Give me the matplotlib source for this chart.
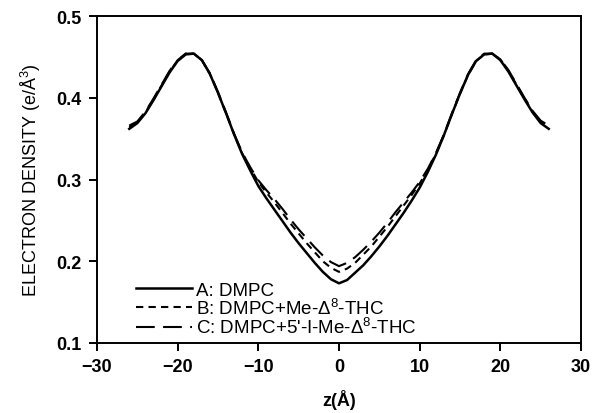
import matplotlib
matplotlib.use("Agg")
import matplotlib.pyplot as plt

z = [-26, -25, -24, -23, -22, -21, -20, -19, -18, -17, -16, -15, -14, -13, -12, -11, -10,
     -9, -8, -7, -6, -5, -4, -3, -2, -1, 0,
     1, 2, 3, 4, 5, 6, 7, 8, 9, 10, 11, 12, 13, 14, 15, 16, 17, 18, 19, 20, 21, 22, 23, 24, 25, 26]

dens_a = [0.362, 0.369, 0.381, 0.397, 0.414, 0.431, 0.445, 0.453, 0.454, 0.446, 0.429, 0.406, 0.381, 0.355,
          0.331, 0.311, 0.292, 0.277, 0.263, 0.249, 0.235, 0.222, 0.210, 0.198, 0.187, 0.178, 0.173,
          0.177, 0.186, 0.195, 0.206, 0.218, 0.231, 0.245, 0.259, 0.274, 0.290, 0.309, 0.330, 0.354,
          0.380, 0.405, 0.428, 0.445, 0.453, 0.454, 0.446, 0.432, 0.415, 0.398, 0.382, 0.369, 0.362]

dens_b = [0.364, 0.370, 0.382, 0.398, 0.415, 0.432, 0.446, 0.454, 0.454, 0.446, 0.429, 0.406, 0.381, 0.355,
          0.332, 0.314, 0.297, 0.284, 0.272, 0.259, 0.246, 0.234, 0.222, 0.211, 0.200, 0.192, 0.187,
          0.191, 0.198, 0.208, 0.218, 0.230, 0.242, 0.255, 0.268, 0.281, 0.295, 0.312, 0.331, 0.354,
          0.380, 0.405, 0.428, 0.445, 0.453, 0.454, 0.447, 0.433, 0.416, 0.399, 0.383, 0.371, 0.364]

dens_c = [0.366, 0.371, 0.383, 0.399, 0.416, 0.433, 0.446, 0.454, 0.454, 0.446, 0.430, 0.407, 0.382, 0.356,
          0.333, 0.315, 0.299, 0.287, 0.276, 0.264, 0.251, 0.239, 0.228, 0.217, 0.207, 0.199, 0.194,
          0.198, 0.205, 0.214, 0.224, 0.235, 0.247, 0.260, 0.272, 0.284, 0.297, 0.313, 0.332, 0.355,
          0.381, 0.406, 0.429, 0.446, 0.454, 0.454, 0.447, 0.434, 0.417, 0.400, 0.384, 0.372, 0.366]

labels = ["A: DMPC", "B: DMPC+Me-$\\Delta^8$-THC", "C: DMPC+5'-I-Me-$\\Delta^8$-THC"]
xticks = [-30, -20, -10, 0, 10, 20, 30]
yticks = [0.1, 0.2, 0.3, 0.4, 0.5]

plt.rcParams['font.family'] = ['Liberation Sans', 'DejaVu Sans']
plt.rcParams['mathtext.fontset'] = 'custom'
plt.rcParams['mathtext.rm'] = 'Liberation Sans'
plt.rcParams['mathtext.it'] = 'Liberation Sans:italic'
plt.rcParams['mathtext.bf'] = 'Liberation Sans:bold'

fig = plt.figure(figsize=(6.01, 4.14), dpi=100)
ax = fig.add_axes([0.1614, 0.1691, 0.8053, 0.7898])

ax.plot(z, dens_a, color='black', lw=1.8, linestyle='-', label=labels[0])
ax.plot(z, dens_b, color='black', lw=1.5, linestyle=(0, (3.5, 2.5)), label=labels[1])
ax.plot(z, dens_c, color='black', lw=1.5, linestyle=(0, (9, 4)), label=labels[2])

ax.set_xlim(-30, 30)
ax.set_ylim(0.1, 0.5)
ax.set_xticks(xticks)
ax.set_yticks(yticks)
ax.set_xticklabels([f"\u2212{abs(t)}" if t < 0 else str(t) for t in xticks], fontweight='bold', fontsize=13)
ax.set_yticklabels([f"{t:.1f}" for t in yticks], fontweight='bold', fontsize=13)
ax.tick_params(axis='both', direction='out', length=6, width=1.4, pad=5)
for s in ax.spines.values():
    s.set_linewidth(1.4)

ax.set_xlabel("z(Å)", fontweight='bold', fontsize=13, labelpad=10)
ax.set_ylabel("ELECTRON DENSITY (e/Å$^3$)", fontsize=13, labelpad=10)

leg = ax.legend(loc='lower left', bbox_to_anchor=(0.065, -0.005), frameon=False, fontsize=13.5,
                handlelength=3.0, handletextpad=0.2, labelspacing=-0.05, borderaxespad=0.0)

fig.savefig("out.png", dpi=100)
